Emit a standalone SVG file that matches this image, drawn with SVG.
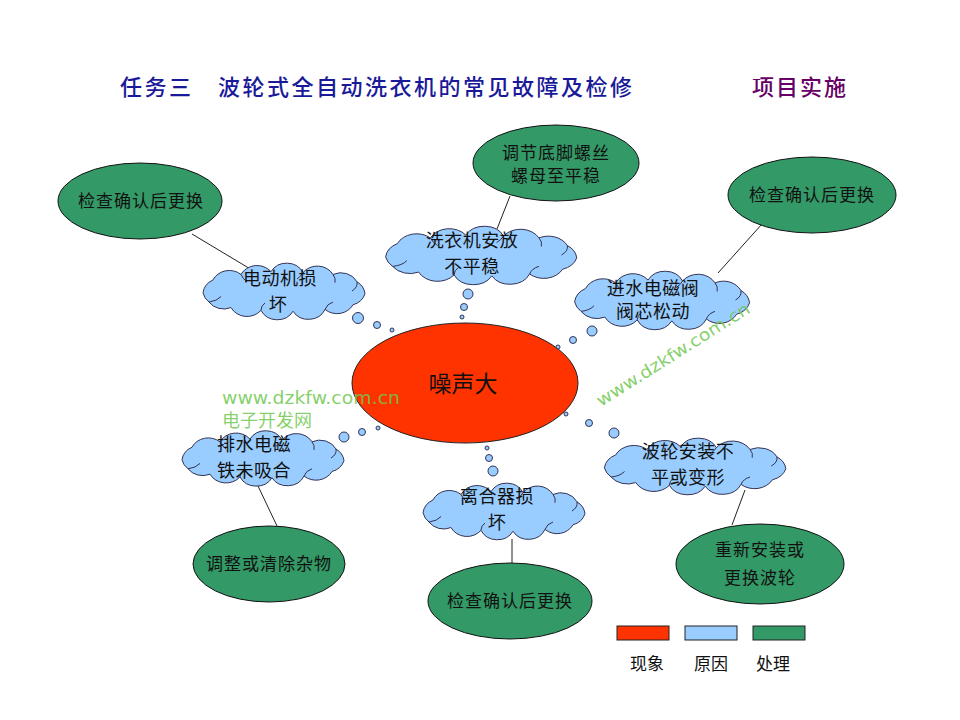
<svg xmlns="http://www.w3.org/2000/svg" xmlns:xlink="http://www.w3.org/1999/xlink" width="960" height="720" viewBox="0 0 960 720">
<style>
.t{font-family:"Noto Sans CJK SC","Noto Sans",sans-serif;text-anchor:middle;fill:#111}
.cl{font-size:18px;letter-spacing:0.5px}
.gr{font-size:17px;letter-spacing:1px}
.green{fill:#339966;stroke:#111;stroke-width:1}
.cloud{fill:#99CCFF;stroke:#333355;stroke-width:1;vector-effect:non-scaling-stroke}
.inner{fill:none;stroke:#333355;stroke-width:1;vector-effect:non-scaling-stroke}
.bub{fill:#99CCFF;stroke:#333355;stroke-width:1}
.ln{stroke:#222;stroke-width:1;fill:none}
.wm{font-family:"DejaVu Sans",Verdana,sans-serif;font-size:17px;fill:#70c850;fill-opacity:0.85}
.wmc{font-family:"Noto Sans CJK SC",sans-serif;font-size:18px;fill:#70c850;fill-opacity:0.85}
</style>
<defs>
<g id="cloudShape">
<path class="cloud" d="M -80 2 A 18 18 0 0 1 -70 -12 A 18 18 0 0 1 -42 -18 A 18 18 0 0 1 -12 -21 A 18 18 0 0 1 20 -20 A 18 18 0 0 1 50 -18 A 18 18 0 0 1 74 -10 A 18 18 0 0 1 82 3 A 18 18 0 0 1 70 15 A 18 18 0 0 1 42 20 A 18 18 0 0 1 10 22 A 18 18 0 0 1 -22 21 A 18 18 0 0 1 -52 18 A 18 18 0 0 1 -74 12 A 18 18 0 0 1 -80 2 Z"/>
<path class="inner" d="M -74 12 Q -66 11 -62 6 M -42 -18 Q -40 -13 -36 -10 M 20 -20 Q 18 -16 14 -13 M 50 -18 Q 53 -14 52 -9 M 74 -10 Q 75 -4 69 0 M 42 20 Q 44 14 50 12 M -22 21 Q -22 16 -18 13"/>
</g>
</defs>
<rect x="0" y="0" width="960" height="720" fill="#ffffff"/>

<g id="title">
<text x="120" y="95" font-family="Noto Sans CJK SC,sans-serif" font-size="22" font-weight="500" fill="#1a1a99" textLength="512" lengthAdjust="spacing">任务三　波轮式全自动洗衣机的常见故障及检修</text>
<text x="752" y="95" font-family="Noto Sans CJK SC,sans-serif" font-size="22" font-weight="500" fill="#660066" letter-spacing="2">项目实施</text>
</g>

<g id="connectors">
<line class="ln" x1="192" y1="234" x2="252" y2="270"/>
<line class="ln" x1="510" y1="196" x2="497" y2="229"/>
<line class="ln" x1="762" y1="224" x2="718" y2="273"/>
<line class="ln" x1="258" y1="486" x2="277" y2="526"/>
<line class="ln" x1="512" y1="539" x2="512" y2="563"/>
<line class="ln" x1="745" y1="490" x2="732" y2="525"/>
</g>

<g id="node-noise">
<ellipse cx="465" cy="383" rx="113" ry="60" fill="#FF3300" stroke="#222" stroke-width="1"/>
<text class="t" x="463" y="392" font-size="23">噪声大</text>
</g>

<g id="cause-motor">
<use xlink:href="#cloudShape" transform="translate(283,291) scale(1.0,0.92)"/>
<text class="t cl" x="280" y="285">电动机损</text>
<text class="t cl" x="278" y="311">坏</text>
<circle class="bub" cx="358" cy="318" r="5.5"/>
<circle class="bub" cx="377" cy="325" r="3.5"/>
<circle class="bub" cx="392" cy="330" r="2"/>
</g>

<g id="cause-level">
<use xlink:href="#cloudShape" transform="translate(480,255) scale(1.18,0.95)"/>
<text class="t cl" x="472" y="247">洗衣机安放</text>
<text class="t cl" x="472" y="273">不平稳</text>
<circle class="bub" cx="468" cy="294" r="5"/>
<circle class="bub" cx="464" cy="307" r="3.5"/>
<circle class="bub" cx="462" cy="317" r="2"/>
</g>

<g id="cause-valve">
<use xlink:href="#cloudShape" transform="translate(661,300) scale(1.08,0.95)"/>
<text class="t cl" x="653" y="295">进水电磁阀</text>
<text class="t cl" x="653" y="318">阀芯松动</text>
<circle class="bub" cx="592" cy="331" r="5"/>
<circle class="bub" cx="573" cy="340" r="3.5"/>
<circle class="bub" cx="558" cy="347" r="2"/>
</g>

<g id="cause-drain">
<use xlink:href="#cloudShape" transform="translate(262,458) scale(1.0,0.9)"/>
<text class="t cl" x="254" y="451">排水电磁</text>
<text class="t cl" x="254" y="477">铁未吸合</text>
<circle class="bub" cx="344" cy="437" r="5"/>
<circle class="bub" cx="362" cy="432" r="3.5"/>
<circle class="bub" cx="378" cy="428" r="2"/>
</g>

<g id="cause-clutch">
<use xlink:href="#cloudShape" transform="translate(503,511) scale(1.0,0.92)"/>
<text class="t cl" x="497" y="503">离合器损</text>
<text class="t cl" x="497" y="529">坏</text>
<circle class="bub" cx="487" cy="448" r="2"/>
<circle class="bub" cx="489" cy="458" r="3.5"/>
<circle class="bub" cx="493" cy="471" r="5"/>
</g>

<g id="cause-pulsator">
<use xlink:href="#cloudShape" transform="translate(694,466) scale(1.12,0.92)"/>
<text class="t cl" x="688" y="458">波轮安装不</text>
<text class="t cl" x="688" y="484">平或变形</text>
<circle class="bub" cx="566" cy="414" r="2"/>
<circle class="bub" cx="589" cy="423" r="3.5"/>
<circle class="bub" cx="614" cy="433" r="5"/>
</g>

<g id="fix-motor">
<ellipse class="green" cx="140" cy="201" rx="82" ry="38"/>
<text class="t gr" x="141" y="207">检查确认后更换</text>
</g>

<g id="fix-level">
<ellipse class="green" cx="556" cy="163" rx="83" ry="38"/>
<text class="t gr" x="556" y="159">调节底脚螺丝</text>
<text class="t gr" x="556" y="182">螺母至平稳</text>
</g>

<g id="fix-valve">
<ellipse class="green" cx="812" cy="195" rx="84" ry="38"/>
<text class="t gr" x="812" y="201">检查确认后更换</text>
</g>

<g id="fix-drain">
<ellipse class="green" cx="269" cy="564" rx="76" ry="38"/>
<text class="t gr" x="269" y="570">调整或清除杂物</text>
</g>

<g id="fix-clutch">
<ellipse class="green" cx="510" cy="601" rx="82" ry="38"/>
<text class="t gr" x="510" y="607">检查确认后更换</text>
</g>

<g id="fix-pulsator">
<ellipse class="green" cx="760" cy="564" rx="84" ry="40"/>
<text class="t gr" x="760" y="556">重新安装或</text>
<text class="t gr" x="760" y="584">更换波轮</text>
</g>

<g id="legend">
<rect x="617" y="626" width="52" height="14" fill="#FF3300" stroke="#222" stroke-width="1"/>
<rect x="685" y="626" width="52" height="14" fill="#99CCFF" stroke="#222" stroke-width="1"/>
<rect x="753" y="626" width="52" height="14" fill="#339966" stroke="#222" stroke-width="1"/>
<text class="t" x="647" y="670" font-size="17">现象</text>
<text class="t" x="711" y="670" font-size="17">原因</text>
<text class="t" x="773" y="670" font-size="17">处理</text>
</g>

<g id="watermark">
<text class="wm" x="222" y="404" textLength="178" lengthAdjust="spacingAndGlyphs">www.dzkfw.com.cn</text>
<text class="wmc" x="222" y="427">电子开发网</text>
<text class="wm" transform="translate(601,407) rotate(-32.3)" x="0" y="0" textLength="178" lengthAdjust="spacingAndGlyphs">www.dzkfw.com.cn</text>
</g>
</svg>
